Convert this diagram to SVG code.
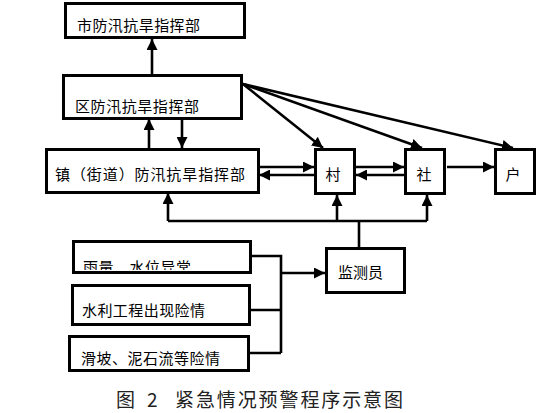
<svg xmlns="http://www.w3.org/2000/svg" width="557" height="413" viewBox="0 0 557 413">
<style>
.box{fill:#fff;stroke:#000;stroke-width:3}
.t{font-family:"Noto Sans CJK SC","Noto Sans CJK JP",sans-serif;font-size:15px;fill:#000}
.ln{fill:none;stroke:#000;stroke-width:2.6}
.cap{font-family:"Noto Sans CJK SC","Noto Sans CJK JP",sans-serif;font-size:19px;fill:#222}
</style>
<defs>
<marker id="ah" markerUnits="userSpaceOnUse" markerWidth="11" markerHeight="11" refX="10" refY="5" orient="auto" viewBox="0 0 10 10">
<path d="M0,0 L10,5 L0,10 z" fill="#000"/>
</marker>
<clipPath id="c1"><rect x="75" y="243" width="174" height="27"/></clipPath>
</defs>
<rect width="557" height="413" fill="#fff"/>
<g id="connectors">
<path class="ln" d="M152,74 V39" marker-end="url(#ah)"/>
<path class="ln" d="M149,148 V119" marker-end="url(#ah)"/>
<path class="ln" d="M182,119 V148" marker-end="url(#ah)"/>
<path class="ln" d="M259,167 H314" marker-end="url(#ah)"/>
<path class="ln" d="M314,175 H259" marker-end="url(#ah)"/>
<path class="ln" d="M355,167 H404" marker-end="url(#ah)"/>
<path class="ln" d="M404,175 H356" marker-end="url(#ah)"/>
<path class="ln" d="M447,167 H494" marker-end="url(#ah)"/>
<path class="ln" d="M243,84 L323,148" marker-end="url(#ah)"/>
<path class="ln" d="M243,84 L422,148" marker-end="url(#ah)"/>
<path class="ln" d="M243,84 L513,148" marker-end="url(#ah)"/>
<path class="ln" d="M359,247 V221"/>
<path class="ln" d="M168,221 H427"/>
<path class="ln" d="M168,221 V193" marker-end="url(#ah)"/>
<path class="ln" d="M337,221 V195" marker-end="url(#ah)"/>
<path class="ln" d="M427,221 V195" marker-end="url(#ah)"/>
<path class="ln" d="M247,256 H281 V353"/>
<path class="ln" d="M247,310 H281"/>
<path class="ln" d="M247,353 H281"/>
<path class="ln" d="M281,273 H325" marker-end="url(#ah)"/>
</g>
<g id="city"><rect class="box" x="65.5" y="3.5" width="179" height="34"/><text class="t" x="77" y="31" textLength="123" lengthAdjust="spacing">市防汛抗旱指挥部</text></g>
<g id="district"><rect class="box" x="63.5" y="75.5" width="178" height="43"/><text class="t" x="75" y="112" textLength="124" lengthAdjust="spacing">区防汛抗旱指挥部</text></g>
<g id="town"><rect class="box" x="46.5" y="149.5" width="212" height="43"/><text class="t" x="55" y="180" textLength="190" lengthAdjust="spacing">镇（街道）防汛抗旱指挥部</text></g>
<g id="village"><rect class="box" x="315.5" y="149.5" width="39" height="44"/><text class="t" x="333" y="180" text-anchor="middle">村</text></g>
<g id="community"><rect class="box" x="405.5" y="149.5" width="39" height="44"/><text class="t" x="424" y="180" text-anchor="middle">社</text></g>
<g id="household"><rect class="box" x="495.5" y="149.5" width="39" height="44"/><text class="t" x="513" y="180" text-anchor="middle">户</text></g>
<g id="monitor"><rect class="box" x="326.5" y="248.5" width="78" height="44"/><text class="t" x="338" y="278" textLength="45" lengthAdjust="spacing">监测员</text></g>
<g id="rain"><rect class="box" x="73.5" y="241.5" width="177" height="31"/><text class="t" x="83" y="273" clip-path="url(#c1)" textLength="108" lengthAdjust="spacing">雨量、水位异常</text></g>
<g id="hydro"><rect class="box" x="72.5" y="285.5" width="177" height="39"/><text class="t" x="82" y="316" textLength="123" lengthAdjust="spacing">水利工程出现险情</text></g>
<g id="landslide"><rect class="box" x="69.5" y="336.5" width="179" height="34"/><text class="t" x="81" y="364" textLength="139" lengthAdjust="spacing">滑坡、泥石流等险情</text></g>
<g id="caption">
<text class="cap" x="116" y="407">图</text>
<text class="cap" x="147" y="407">2</text>
<text class="cap" x="175" y="407" textLength="228" lengthAdjust="spacing">紧急情况预警程序示意图</text>
</g>
</svg>
